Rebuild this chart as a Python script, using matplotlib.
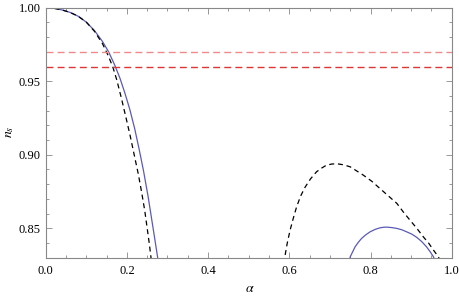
import matplotlib
matplotlib.use("Agg")
import matplotlib.pyplot as plt
from matplotlib.ticker import MultipleLocator

# values
alpha_blue1 = [0.0, 0.02, 0.04, 0.06, 0.08, 0.10, 0.12, 0.14, 0.155, 0.170, 0.183, 0.195, 0.207,
               0.219, 0.230, 0.241, 0.252, 0.260, 0.268, 0.275, 0.281]
ns_blue1 = [1.0, 0.9996, 0.9985, 0.9968, 0.9942, 0.9902, 0.9845, 0.9770, 0.970, 0.961, 0.952, 0.942, 0.931,
            0.918, 0.904, 0.889, 0.872, 0.858, 0.844, 0.8315, 0.821]

alpha_dash1 = [0.0, 0.02, 0.04, 0.06, 0.08, 0.10, 0.12, 0.14, 0.153, 0.165, 0.175, 0.186, 0.198,
               0.208, 0.218, 0.228, 0.236, 0.244, 0.250, 0.255, 0.259, 0.262]
ns_dash1 = [1.0, 0.9996, 0.9985, 0.9968, 0.9942, 0.9902, 0.9840, 0.9755, 0.968, 0.960, 0.951, 0.939, 0.925,
            0.913, 0.900, 0.887, 0.875, 0.862, 0.850, 0.840, 0.831, 0.824]

alpha_dash2 = [0.586, 0.589, 0.595, 0.602, 0.610, 0.618, 0.628, 0.639, 0.652, 0.667, 0.680, 0.692, 0.705,
               0.717, 0.733, 0.750, 0.766, 0.782, 0.803, 0.823, 0.844, 0.865, 0.881, 0.897, 0.914,
               0.930, 0.943, 0.955, 0.967, 0.972]
ns_dash2 = [0.826, 0.8306, 0.840, 0.8488, 0.857, 0.8646, 0.872, 0.878, 0.8835, 0.8884, 0.891, 0.893, 0.8937,
            0.8939, 0.8932, 0.8918, 0.889, 0.8862, 0.882, 0.8771, 0.872, 0.8669, 0.861, 0.8556, 0.850,
            0.8442, 0.840, 0.8352, 0.8306, 0.828]

alpha_blue2 = [0.747, 0.750, 0.756, 0.762, 0.770, 0.778, 0.788, 0.799, 0.811, 0.823, 0.832, 0.840, 0.852,
               0.865, 0.877, 0.889, 0.902, 0.914, 0.926, 0.938, 0.947, 0.955, 0.959]
ns_blue2 = [0.826, 0.8306, 0.834, 0.8374, 0.8405, 0.8431, 0.8455, 0.8476, 0.8492, 0.8503, 0.8507, 0.8508, 0.8505,
            0.8499, 0.849, 0.8476, 0.846, 0.8438, 0.841, 0.8374, 0.834, 0.8306, 0.828]

ns_upper = 0.97
ns_lower = 0.96

plt.rcParams['font.family'] = ['Liberation Serif', 'DejaVu Serif']
plt.rcParams['mathtext.fontset'] = 'stix'

fig = plt.figure(figsize=(4.6, 2.97), dpi=100)
ax = fig.add_axes([0.0993, 0.1323, 0.8827, 0.8418])

blue = '#5a5ab8'
ax.plot(alpha_blue1, ns_blue1, color=blue, lw=0.9)
ax.plot(alpha_blue2, ns_blue2, color=blue, lw=0.9)
ax.plot(alpha_dash1, ns_dash1, color='black', lw=0.9, dashes=(4, 3))
ax.plot(alpha_dash2, ns_dash2, color='black', lw=0.9, dashes=(4, 3))
ax.axhline(ns_upper, color='#f08a8a', lw=1.0, dashes=(5, 3))
ax.axhline(ns_lower, color='#e03535', lw=1.0, dashes=(5, 3))

ax.set_xlim(0, 1)
ax.set_ylim(0.83, 1.0)
ax.xaxis.set_major_locator(MultipleLocator(0.2))
ax.xaxis.set_minor_locator(MultipleLocator(0.05))
ax.yaxis.set_major_locator(MultipleLocator(0.05))
ax.yaxis.set_minor_locator(MultipleLocator(0.01))
ax.set_xticklabels([f'{v:.1f}' for v in ax.get_xticks()])
ax.set_yticklabels([f'{v:.2f}' for v in ax.get_yticks()])

for s in ax.spines.values():
    s.set_color('#888888')
    s.set_linewidth(0.8)
ax.tick_params(which='both', direction='in', top=True, right=True, color='#888888', labelsize=9, width=0.6)
ax.tick_params(which='major', length=4)
ax.tick_params(which='minor', length=2)
ax.tick_params(axis='x', pad=5)

fig.text(250 / 460, 1 - 289 / 297, r'$\alpha$', fontsize=10, ha='center', va='center')
fig.text(10 / 460, 1 - 132 / 297, r'$n_s$', fontsize=10, ha='center', va='center', rotation=90)

fig.savefig('out.png', dpi=100)
